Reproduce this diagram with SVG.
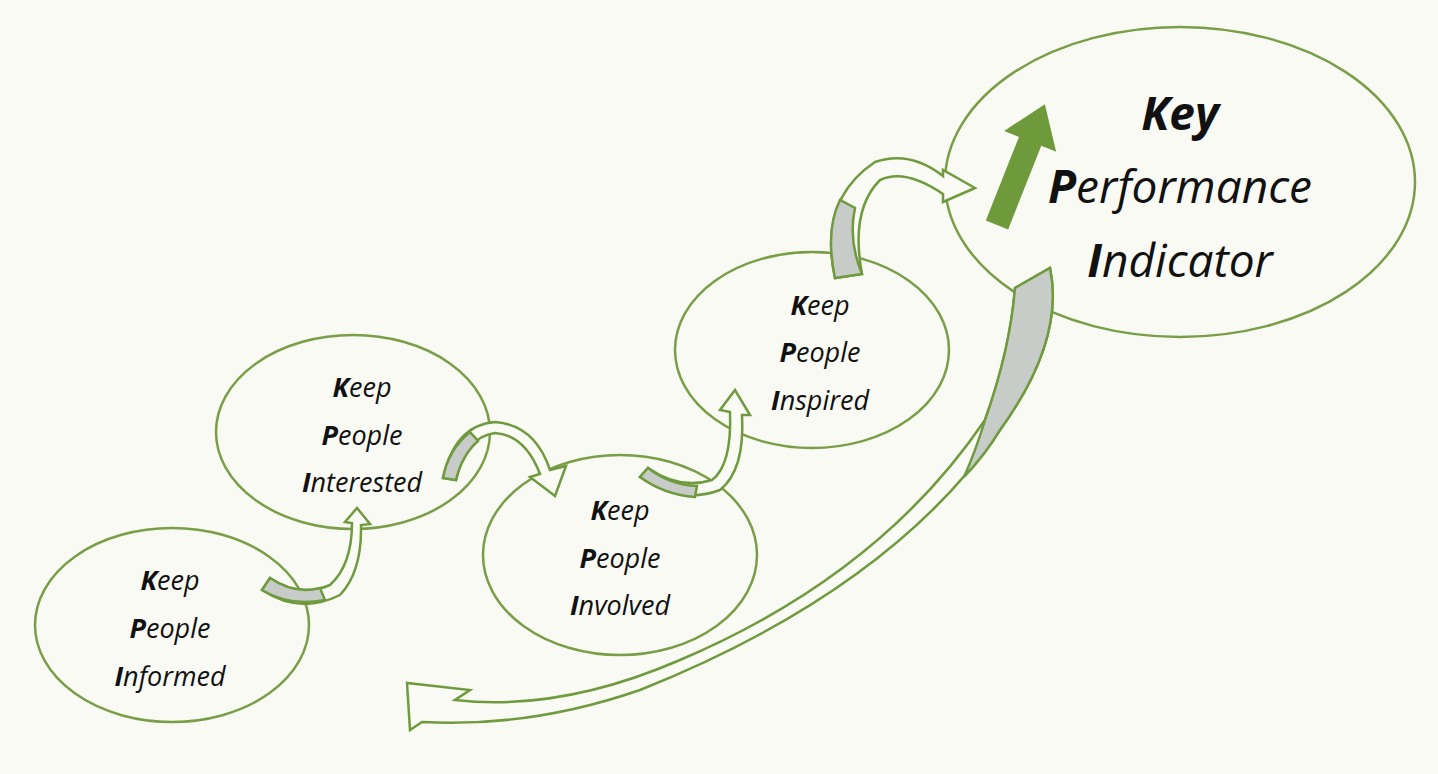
<svg xmlns="http://www.w3.org/2000/svg" width="1438" height="774" viewBox="0 0 1438 774">
<style>
.node{fill:none;stroke:#7a9e47;stroke-width:2.5}
.t{font-family:"Open Sans","Liberation Sans",sans-serif;font-style:italic;font-size:27px;fill:#111;text-anchor:middle}
.k{font-family:"Open Sans","Liberation Sans",sans-serif;font-style:italic;font-size:46px;fill:#111;text-anchor:middle}
.b{font-weight:bold}
.arr{fill:#fbfbf5;stroke:#6f9a3d;stroke-width:2.5;stroke-linejoin:miter}
.tail{fill:#c8ccc8;stroke:#6f9a3d;stroke-width:2.5}
</style>
<rect width="1438" height="774" fill="#fafaf4"/>
<g id="n1"><ellipse class="node" cx="172" cy="625" rx="137" ry="97"/>
<text class="t" x="170" y="590"><tspan class="b">K</tspan>eep</text>
<text class="t" x="170" y="638"><tspan class="b">P</tspan>eople</text>
<text class="t" x="170" y="686"><tspan class="b">I</tspan>nformed</text></g>
<g id="n2"><ellipse class="node" cx="353" cy="432" rx="137" ry="97"/>
<text class="t" x="362" y="397"><tspan class="b">K</tspan>eep</text>
<text class="t" x="362" y="445"><tspan class="b">P</tspan>eople</text>
<text class="t" x="362" y="492"><tspan class="b">I</tspan>nterested</text></g>
<g id="n3"><ellipse class="node" cx="620" cy="555" rx="137" ry="100"/>
<text class="t" x="620" y="520"><tspan class="b">K</tspan>eep</text>
<text class="t" x="620" y="568"><tspan class="b">P</tspan>eople</text>
<text class="t" x="620" y="615"><tspan class="b">I</tspan>nvolved</text></g>
<g id="n4"><ellipse class="node" cx="812" cy="350" rx="137" ry="98"/>
<text class="t" x="820" y="315"><tspan class="b">K</tspan>eep</text>
<text class="t" x="820" y="362"><tspan class="b">P</tspan>eople</text>
<text class="t" x="820" y="410"><tspan class="b">I</tspan>nspired</text></g>
<g id="n5"><ellipse class="node" cx="1180" cy="182" rx="235" ry="155"/>
<text class="k" x="1180" y="130"><tspan class="b">Key</tspan></text>
<text class="k" x="1180" y="203"><tspan class="b">P</tspan>erformance</text>
<text class="k" x="1180" y="277"><tspan class="b">I</tspan>ndicator</text>
<path transform="translate(997,225) rotate(21.6)" d="M-12 0 L12 0 L12 -90 L28 -90 L0 -130 L-28 -90 L-12 -90 Z" fill="#6e9a3c"/></g>
<g id="connectors">
<path class="arr" d="M262 590 Q300 615 340 595 Q362 572 361 525 L370 524 L357 508 L345 522 L352 523 Q352 565 330 585 Q300 598 270 578 Z"/>
<path class="tail" d="M262 590 Q290 607 325 600 L320 588 Q295 595 270 578 Z"/>
<path class="arr" d="M443 478 Q455 425 495 422 Q535 425 550 470 L566 466 L555 496 L530 477 L540 474 Q525 435 495 433 Q465 437 456 480 Z"/>
<path class="tail" d="M443 478 Q448 450 470 432 L478 441 Q462 455 456 480 Z"/>
<path class="arr" d="M640 477 Q680 505 720 490 Q745 470 742 415 L750 415 L735 390 L720 410 L730 412 Q732 465 712 480 Q680 490 648 468 Z"/>
<path class="tail" d="M640 477 Q665 495 695 497 L697 486 Q670 485 648 468 Z"/>
<path class="arr" d="M835 278 Q818 200 875 162 Q910 150 943 176 L943 170 L975 188 L943 202 L943 194 Q905 168 880 180 Q850 210 862 274 Z"/>
<path class="tail" d="M835 278 Q825 230 840 200 L855 208 Q848 240 862 274 Z"/>
<path class="arr" d="M1050 268 Q1065 340 1000 430 Q890 590 640 690 Q530 728 422 722 L410 730 L407 683 L470 690 L455 700 Q560 712 680 660 Q880 575 985 420 Q1010 350 1015 288 Z"/>
<path class="tail" d="M1050 268 Q1065 340 1000 430 Q985 455 964 477 Q976 450 985 420 Q1010 350 1015 288 Z"/>
</g>
</svg>
